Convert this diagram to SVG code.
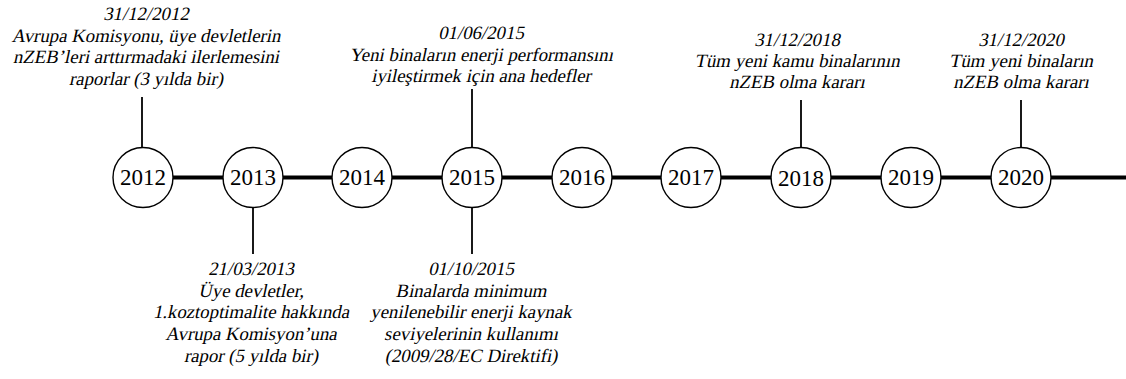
<svg xmlns="http://www.w3.org/2000/svg" width="1126" height="379" viewBox="0 0 1126 379">
<defs>
<style>
.axis{stroke:#000;stroke-width:4;fill:none}
.tick{stroke:#000;stroke-width:1.8;fill:none}
.ring{fill:#fff;stroke:#000;stroke-width:1.4}
</style>
</defs>
<rect x="0" y="0" width="1126" height="379" fill="#fff"/>
<g id="connectors">
<line class="axis" x1="143" y1="177.5" x2="1126" y2="177.5"/>
<line class="tick" x1="142" y1="97" x2="142" y2="148"/>
<line class="tick" x1="253" y1="207" x2="253" y2="254"/>
<line class="tick" x1="472" y1="89" x2="472" y2="148"/>
<line class="tick" x1="472" y1="207" x2="472" y2="254"/>
<line class="tick" x1="801" y1="100" x2="801" y2="148"/>
<line class="tick" x1="1021" y1="100" x2="1021" y2="148"/>
</g>
<g font-family="'Liberation Serif', serif" font-size="23" text-anchor="middle" fill="#000">
<g id="y2012"><circle class="ring" cx="143" cy="177.5" r="30"/><text x="143" y="185">2012</text></g>
<g id="y2013"><circle class="ring" cx="253" cy="177.5" r="30"/><text x="253" y="185">2013</text></g>
<g id="y2014"><circle class="ring" cx="362" cy="177.5" r="30"/><text x="362" y="185">2014</text></g>
<g id="y2015"><circle class="ring" cx="472" cy="177.5" r="30"/><text x="472" y="185">2015</text></g>
<g id="y2016"><circle class="ring" cx="582" cy="177.5" r="30"/><text x="582" y="185">2016</text></g>
<g id="y2017"><circle class="ring" cx="691" cy="177.5" r="30"/><text x="691" y="185">2017</text></g>
<g id="y2018"><circle class="ring" cx="801" cy="177.5" r="30"/><text x="801" y="186">2018</text></g>
<g id="y2019"><circle class="ring" cx="911" cy="177.5" r="30"/><text x="911" y="185">2019</text></g>
<g id="y2020"><circle class="ring" cx="1021" cy="177.5" r="30"/><text x="1021" y="185">2020</text></g>
</g>
<g font-family="'Liberation Serif', serif" font-size="18.8" text-anchor="middle" fill="#000">
<g id="n2012">
<text transform="translate(146,20) skewX(-12)">31/12/2012</text>
<text transform="translate(146,41.7) skewX(-12)">Avrupa Komisyonu, üye devletlerin</text>
<text transform="translate(146,63.3) skewX(-12)">nZEB’leri arttırmadaki ilerlemesini</text>
<text transform="translate(146,85) skewX(-12)">raporlar (3 yılda bir)</text>
</g>
<g id="n2013">
<text transform="translate(251,275) skewX(-12)">21/03/2013</text>
<text transform="translate(251,296.7) skewX(-12)">Üye devletler,</text>
<text transform="translate(251,318.3) skewX(-12)">1.koztoptimalite hakkında</text>
<text transform="translate(251,340) skewX(-12)">Avrupa Komisyon’una</text>
<text transform="translate(251,361.7) skewX(-12)">rapor (5 yılda bir)</text>
</g>
<g id="n2015a">
<text transform="translate(481,39) skewX(-12)">01/06/2015</text>
<text transform="translate(481,60.5) skewX(-12)">Yeni binaların enerji performansını</text>
<text transform="translate(481,82) skewX(-12)">iyileştirmek için ana hedefler</text>
</g>
<g id="n2015b">
<text transform="translate(471,275) skewX(-12)">01/10/2015</text>
<text transform="translate(471,296.7) skewX(-12)">Binalarda minimum</text>
<text transform="translate(471,318.3) skewX(-12)">yenilenebilir enerji kaynak</text>
<text transform="translate(471,340) skewX(-12)">seviyelerinin kullanımı</text>
<text transform="translate(471,361.7) skewX(-12)">(2009/28/EC Direktifi)</text>
</g>
<g id="n2018">
<text transform="translate(797,45.7) skewX(-12)">31/12/2018</text>
<text transform="translate(797,66.7) skewX(-12)">Tüm yeni kamu binalarının</text>
<text transform="translate(797,88) skewX(-12)">nZEB olma kararı</text>
</g>
<g id="n2020">
<text transform="translate(1021,45.7) skewX(-12)">31/12/2020</text>
<text transform="translate(1021,66.7) skewX(-12)">Tüm yeni binaların</text>
<text transform="translate(1021,88) skewX(-12)">nZEB olma kararı</text>
</g>
</g>
</svg>
